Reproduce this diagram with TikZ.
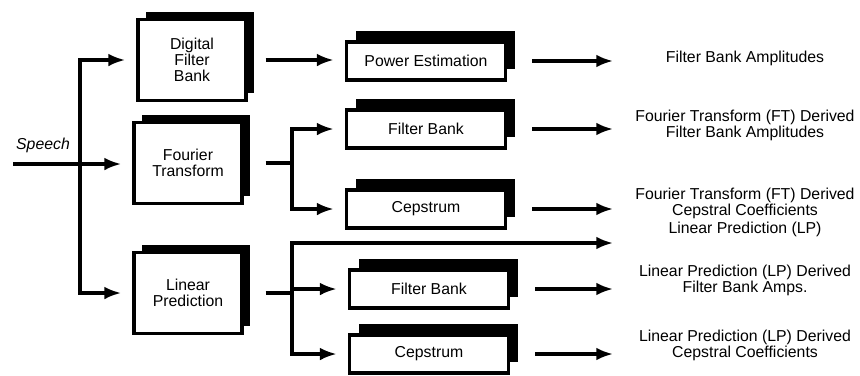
\documentclass[tikz,border=0pt]{standalone}
\usepackage{fontspec}
\setmainfont{Liberation Sans}
\usetikzlibrary{arrows.meta,shadows}
\tikzset{% 
    blk/.style={draw,line width=2.6pt,fill=white,align=center,inner sep=0pt},
    bigblk/.style={blk,minimum width=32.4mm,minimum height=24.3mm,
        general shadow={fill=black,shadow xshift=2.4mm,shadow yshift=2.4mm}},
    smallblk/.style={blk,minimum width=47.7mm,minimum height=11.4mm,
        general shadow={fill=black,shadow xshift=2.7mm,shadow yshift=3.3mm}},
    lbl/.style={align=center},
    ln/.style={line width=2.6pt},
    arr/.style={ln,-{Latex[length=5mm,width=3.8mm]},shorten >=3.4mm}
}

\begin{document}
\begin{tikzpicture}[x=0.3mm,y=-0.3mm,
        every node/.append style={font=\fontsize{13.5}{13.8}\selectfont}]
        \useasboundingbox (0,0) rectangle (860,375);
        % analysis blocks
        \node[bigblk] (dfb) at (192,60){Digital\\Filter\\Bank};
        \node[bigblk] (ft) at (188,163){Fourier\\Transform};
        \node[bigblk] (lp) at (188,293){Linear\\Prediction};
        \node[smallblk] (pe) at (426,61){Power Estimation};
        \node[smallblk] (fbft) at (426,129){Filter Bank};
        \node[smallblk] (cepft) at (426,209){Cepstrum};
        \node[smallblk] (fblp) at (429,289){Filter Bank};
        \node[smallblk] (ceplp) at (429,354){Cepstrum};
        % feature labels
        \node[lbl] (amp) at (745,58){Filter Bank Amplitudes};
        \node[lbl] (ftamp) at (745,125){Fourier Transform (FT) Derived\\Filter Bank Amplitudes};
        \node[lbl] (ftcep) at (745,203){Fourier Transform (FT) Derived\\Cepstral Coefficients};
        \node[lbl] (lpc) at (745,229){Linear Prediction (LP)};
        \node[lbl] (lpamp) at (745,280){Linear Prediction (LP) Derived\\Filter Bank Amps.};
        \node[lbl] (lpcep) at (745,345){Linear Prediction (LP) Derived\\Cepstral Coefficients};
        \node[font=\fontsize{13.5}{13.8}\selectfont\itshape] (speech) at (43,145){Speech};
        \coordinate (in) at (13,164);
        \coordinate (fork) at (80,0);
        \coordinate (ftfork) at (292,0);
        \coordinate (lptop) at (292,243);
        \coordinate (out) at (613,0);
        % speech input
        \draw[arr] (in) -- (in -| ft.west);
        \draw[arr] (fork |- lp.west) -- (fork |- dfb.west) -- (dfb.west);
        \draw[arr] (fork |- dfb.west) -- (fork |- lp.west) -- (lp.west);
        % middle stage
        \draw[arr,shorten <=5.4mm] (dfb.east) -- (dfb.east -| pe.west);
        \draw[ln,shorten <=6.6mm] (ft.east) -- (ft.east -| ftfork);
        \draw[arr] (cepft.west -| ftfork) -- (fbft.west -| ftfork) -- (fbft.west);
        \draw[arr] (fbft.west -| ftfork) -- (cepft.west -| ftfork) -- (cepft.west);
        \draw[ln,shorten <=6.6mm] (lp.east) -- (lp.east -| lptop);
        \draw[arr] (lptop) -- (ceplp.west -| lptop) -- (ceplp.west);
        \draw[arr] (fblp.west -| lptop) -- (fblp.west);
        % outputs
        \draw[arr,shorten >=0pt] (ceplp.west -| lptop) -- (lptop) -- (lptop -| out);
        \draw[arr,shorten >=0pt,shorten <=7.5mm] (pe.east) -- (pe.east -| out);
        \draw[arr,shorten >=0pt,shorten <=7.5mm] (fbft.east) -- (fbft.east -| out);
        \draw[arr,shorten >=0pt,shorten <=7.5mm] (cepft.east) -- (cepft.east -| out);
        \draw[arr,shorten >=0pt,shorten <=7.5mm] (fblp.east) -- (fblp.east -| out);
        \draw[arr,shorten >=0pt,shorten <=7.5mm] (ceplp.east) -- (ceplp.east -| out);
\end{tikzpicture}
\end{document}
